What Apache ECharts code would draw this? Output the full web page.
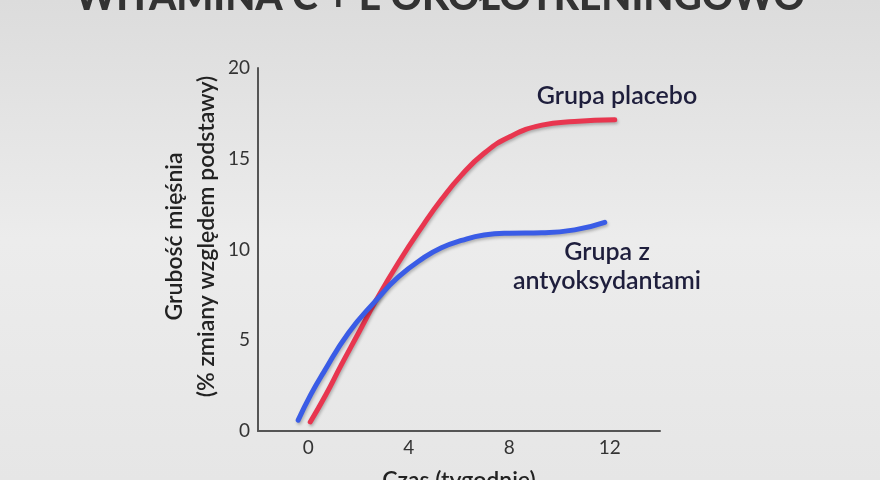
<!DOCTYPE html>
<html>
<head>
<meta charset="utf-8">
<style>
  html, body { margin: 0; padding: 0; }
  #chart { width: 880px; height: 480px; }
</style>
<script src="https://cdn.jsdelivr.net/npm/echarts@6/dist/echarts.min.js"></script>
</head>
<body>
<div id="chart"></div>
<script>
// dane: [tydzień, % zmiany]
const placebo = [
  [0.08, 0.5], [0.7, 2.0], [1.3, 3.6], [2.0, 5.4], [2.7, 7.2], [3.6, 9.3], [4.6, 11.4],
  [5.3, 12.75], [6.1, 14.1], [7.0, 15.3], [8.0, 16.2], [9.3, 16.85], [10.6, 17.05], [12.2, 17.15]
];
const antyoksydanty = [
  [-0.4, 0.6], [0.1, 2.0], [0.6, 3.2], [1.6, 5.4], [2.7, 7.2], [3.6, 8.5], [4.6, 9.55],
  [5.3, 10.1], [6.1, 10.5], [7.0, 10.8], [8.0, 10.9], [9.3, 10.92], [10.6, 11.08], [11.8, 11.5]
];
const xTicks = [0, 4, 8, 12];

const chart = echarts.init(document.getElementById('chart'));

const lineShadow = { shadowColor: 'rgba(0,0,0,0.25)', shadowBlur: 3, shadowOffsetX: 1, shadowOffsetY: 2 };

const option = {
  backgroundColor: {
    type: 'linear', x: 0, y: 0, x2: 0, y2: 1,
    colorStops: [
      { offset: 0, color: '#dcdcdc' },
      { offset: 0.5, color: '#ececec' },
      { offset: 1, color: '#e6e6e6' }
    ]
  },
  title: {
    text: 'WITAMINA C + E OKOŁOTRENINGOWO',
    left: 'center',
    top: -27,
    textStyle: {
      fontFamily: 'Lato',
      fontWeight: 900,
      fontSize: 39,
      color: '#333'
    }
  },
  grid: { left: 258, right: 220, top: 68, bottom: 49, outerBoundsMode: 'none' },
  xAxis: {
    type: 'value',
    min: -2,
    max: 14,
    name: 'Czas (tygodnie)',
    nameLocation: 'middle',
    nameGap: 38,
    nameTextStyle: { fontFamily: 'Lato', fontSize: 23, fontWeight: 600, color: '#222' },
    axisLine: { onZero: false, lineStyle: { color: '#555', width: 2 } },
    axisTick: { show: false },
    splitLine: { show: false },
    axisLabel: {
      customValues: xTicks,
      fontFamily: 'Lato',
      fontSize: 19,
      color: '#333',
      margin: 7
    }
  },
  yAxis: {
    type: 'value',
    min: 0,
    max: 20,
    interval: 5,
    name: 'Grubość mięśnia\n(% zmiany względem podstawy)',
    nameLocation: 'middle',
    nameGap: 35,
    nameTextStyle: {
      fontFamily: 'Lato', fontSize: 23, fontWeight: 600, color: '#222',
      lineHeight: 32, padding: [0, 0, 0, 26]
    },
    axisLine: { show: true, onZero: false, lineStyle: { color: '#555', width: 2 } },
    axisTick: { show: false },
    splitLine: { show: false },
    axisLabel: { fontFamily: 'Lato', fontSize: 19, color: '#333', margin: 8 }
  },
  graphic: [
    { type: 'text', x: 617, y: 96,
      style: { text: 'Grupa placebo', font: '600 25px Lato', fill: '#1e1e3c',
               align: 'center', verticalAlign: 'middle' } },
    { type: 'text', x: 607, y: 266,
      style: { text: 'Grupa z\nantyoksydantami', font: '600 25px Lato', fill: '#1e1e3c',
               align: 'center', verticalAlign: 'middle', lineHeight: 29 } }
  ],
  series: [
    {
      name: 'Grupa placebo',
      type: 'line',
      data: placebo,
      smooth: true,
      showSymbol: false,
      lineStyle: Object.assign({ color: '#e8364f', width: 5, cap: 'round' }, lineShadow)
    },
    {
      name: 'Grupa z antyoksydantami',
      type: 'line',
      data: antyoksydanty,
      smooth: true,
      showSymbol: false,
      lineStyle: Object.assign({ color: '#3a5ce6', width: 5, cap: 'round' }, lineShadow)
    }
  ]
};

chart.setOption(option);
</script>
</body>
</html>
